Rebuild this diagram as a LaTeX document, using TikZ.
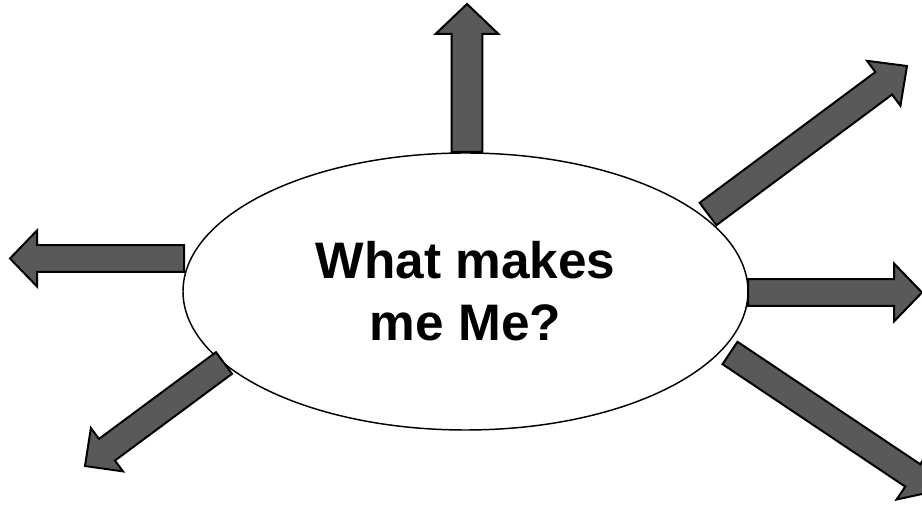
\documentclass[tikz,border=0pt]{standalone}
\usepackage{fontspec}
\setmainfont{Liberation Sans}
\usetikzlibrary{calc,shapes.geometric}
\definecolor{spokefill}{HTML}{595959}
\tikzset{
  hub/.style={draw, ellipse, line width=1.1pt, fill=white, inner sep=0pt,
    minimum width=423.75pt, minimum height=207.75pt, align=center,
    font=\bfseries\fontsize{38.5}{46.5}\selectfont},
  spoke/.style={draw, fill=spokefill, line width=1.5pt, miter limit=10},
}
% base, tip, half shaft width, half head width, head length
\newcommand{\blockarrow}[5]{%
  \coordinate (#2-neck) at ($(#2)!#5!(#1)$);
  \draw[spoke] ($(#1)!#3!90:(#2)$) -- ($(#2-neck)!#3!90:(#2)$) -- ($(#2-neck)!#4!90:(#2)$)
    -- (#2) -- ($(#2-neck)!#4!-90:(#2)$) -- ($(#2-neck)!#3!-90:(#2)$) -- ($(#1)!#3!-90:(#2)$) -- cycle;
}

\begin{document}
\begin{tikzpicture}[x=0.75pt, y=-0.75pt]
  \clip (0,0) rectangle (922,505);
  \node[hub] (me) at (465.5,291.5) {What makes\\me Me?};

  % spokes, from the rim outwards
  \coordinate (upB) at (467,152);   \coordinate (upT) at (467,4);
  \coordinate (urB) at (708,214);   \coordinate (urT) at (907,66);
  \coordinate (lfB) at (184,258.5); \coordinate (lfT) at (10,258.5);
  \coordinate (rtB) at (748,292.5); \coordinate (rtT) at (922,292.5);
  \coordinate (llB) at (224,363);   \coordinate (llT) at (85,466);
  \coordinate (lrB) at (730,353);   \coordinate (lrT) at (936,491);

  \blockarrow{upB}{upT}{11.6pt}{23.6pt}{22.5pt}
  \blockarrow{urB}{urT}{10.5pt}{21pt}{21.75pt}
  \blockarrow{lfB}{lfT}{10.1pt}{21pt}{20.25pt}
  \blockarrow{rtB}{rtT}{10.1pt}{21.75pt}{21pt}
  \blockarrow{llB}{llT}{10.1pt}{20.25pt}{20.5pt}
  \blockarrow{lrB}{lrT}{10.1pt}{21.75pt}{21pt}
\end{tikzpicture}
\end{document}
